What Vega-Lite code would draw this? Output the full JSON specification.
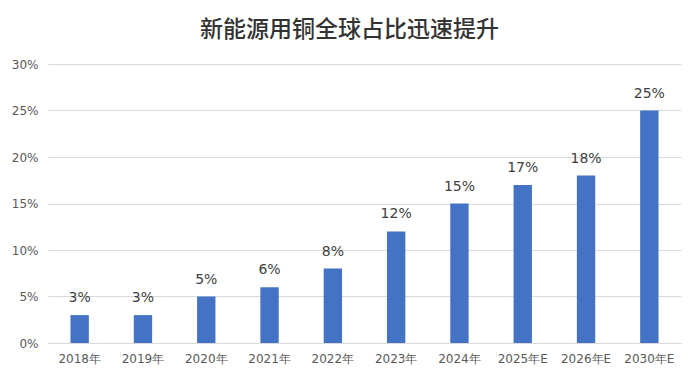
{
  "$schema": "https://vega.github.io/schema/vega-lite/v6.json",
  "width": 633,
  "height": 279,
  "autosize": {"type": "none"},
  "padding": {"left": 48, "top": 64, "right": 19, "bottom": 41},
  "background": "white",
  "title": {
    "text": "新能源用铜全球占比迅速提升",
    "font": "Noto Sans CJK SC",
    "fontSize": 23,
    "fontWeight": 500,
    "color": "#333333",
    "offset": 16,
    "dx": -15,
    "anchor": "middle"
  },
  "config": {
    "view": {"stroke": null},
    "font": "Noto Sans CJK SC"
  },
  "data": {
    "values": [
      {"year": "2018年", "v": 0.03},
      {"year": "2019年", "v": 0.03},
      {"year": "2020年", "v": 0.05},
      {"year": "2021年", "v": 0.06},
      {"year": "2022年", "v": 0.08},
      {"year": "2023年", "v": 0.12},
      {"year": "2024年", "v": 0.15},
      {"year": "2025年E", "v": 0.17},
      {"year": "2026年E", "v": 0.18},
      {"year": "2030年E", "v": 0.25}
    ]
  },
  "encoding": {
    "x": {
      "field": "year", "type": "nominal", "sort": null,
      "scale": {"paddingInner": 0.71, "paddingOuter": 0.355},
      "axis": {
        "title": null, "labelAngle": 0, "ticks": false,
        "domainColor": "#d9d9d9", "labelColor": "#595959",
        "labelFontSize": 12, "labelFont": "DejaVu Sans", "labelPadding": 10
      }
    },
    "y": {
      "field": "v", "type": "quantitative",
      "scale": {"domain": [0, 0.3]},
      "axis": {
        "title": null, "format": ".0%", "values": [0, 0.05, 0.1, 0.15, 0.2, 0.25, 0.3],
        "domain": false, "ticks": false, "gridColor": "#d9d9d9",
        "labelColor": "#595959", "labelFontSize": 12, "labelFont": "DejaVu Sans", "labelPadding": 10
      }
    }
  },
  "layer": [
    {"mark": {"type": "bar", "color": "#4472C4"}},
    {
      "mark": {"type": "text", "baseline": "bottom", "dy": -10, "fontSize": 14, "color": "#404040", "font": "DejaVu Sans"},
      "encoding": {"text": {"field": "v", "type": "quantitative", "format": ".0%"}}
    }
  ]
}
